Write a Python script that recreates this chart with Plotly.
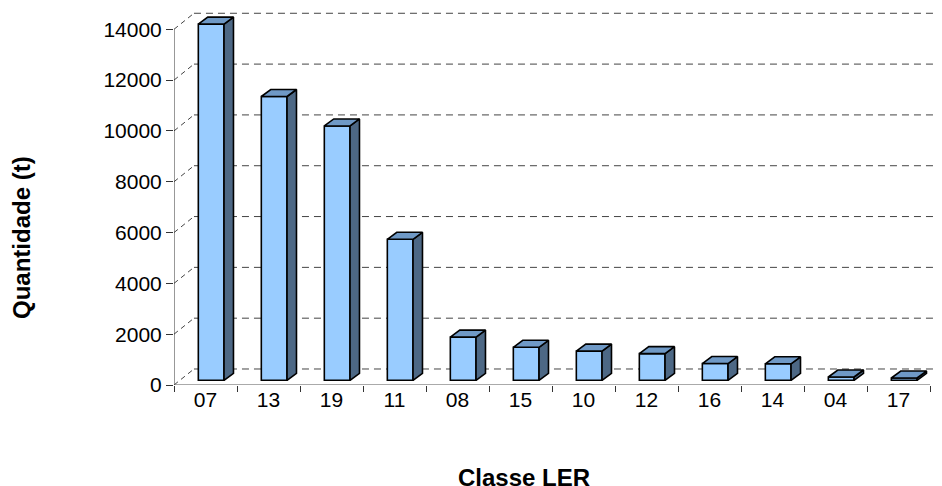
import plotly.graph_objects as go

# data
classes = ['07', '13', '19', '11', '08', '15', '10', '12', '16', '14', '04', '17']
quantities = [14020, 11170, 10010, 5550, 1700, 1300, 1150, 1050, 660, 650, 130, 90]
y_ticks = [0, 2000, 4000, 6000, 8000, 10000, 12000, 14000]

# fake 3d look: depth of the bars and of the back wall, in axis units
bar_width = 0.408
bar_shift = 0.09
bar_floor = 185
bar_dx = 0.15
bar_dy = 275
wall_dx = 0.317
wall_dy = 630

x_max = 11.69
y_max = 14838

fig = go.Figure()

# back wall grid goes under the traces
for val in y_ticks:
    fig.add_shape(type='line', layer='below', x0=-0.5, y0=val, x1=-0.5 + wall_dx, y1=val + wall_dy,
                  line=dict(color='#444444', width=1, dash='5px,4px'))
    fig.add_shape(type='line', layer='below', x0=-0.5 + wall_dx, y0=val + wall_dy, x1=x_max, y1=val + wall_dy,
                  line=dict(color='#444444', width=1, dash='7px,5px'))

# front faces
positions = [i + bar_shift for i in range(len(classes))]
fig.add_trace(go.Bar(x=positions, y=quantities, base=bar_floor, width=bar_width,
                     marker=dict(color='#99CCFF', line=dict(color='black', width=1.6)),
                     hoverinfo='skip'))

# side and top faces
for pos, val in zip(positions, quantities):
    left = pos - bar_width / 2
    right = pos + bar_width / 2
    top = bar_floor + val
    fig.add_trace(go.Scatter(x=[right, right + bar_dx, right + bar_dx, right, right],
                             y=[bar_floor, bar_floor + bar_dy, top + bar_dy, top, bar_floor],
                             mode='lines', fill='toself', fillcolor='#4D6885',
                             line=dict(color='black', width=1.6), hoverinfo='skip'))
    fig.add_trace(go.Scatter(x=[left, left + bar_dx, right + bar_dx, right, left],
                             y=[top, top + bar_dy, top + bar_dy, top, top],
                             mode='lines', fill='toself', fillcolor='#6F99C6',
                             line=dict(color='black', width=1.6), hoverinfo='skip'))

# axis lines stop at the last tick, so they are drawn as traces
fig.add_trace(go.Scatter(x=[-0.5, -0.5], y=[0, y_ticks[-1]], mode='lines', cliponaxis=False,
                         line=dict(color='#333333', width=1), hoverinfo='skip'))
fig.add_trace(go.Scatter(x=[-0.5, len(classes) - 0.5], y=[0, 0], mode='lines', cliponaxis=False,
                         line=dict(color='#555555', width=1), hoverinfo='skip'))

# the page has an 8px body margin, margins below allow for it
fig.update_layout(
    width=942, height=486,
    margin=dict(l=166, r=8, t=0, b=109),
    paper_bgcolor='white', plot_bgcolor='white',
    showlegend=False,
    font=dict(family='Liberation Sans, Arial, sans-serif', size=21, color='black'),
    xaxis=dict(range=[-0.5, x_max], tickmode='array', tickvals=list(range(len(classes))), ticktext=classes,
               ticks='', ticklen=0, showgrid=False, zeroline=False, showline=False,
               minor=dict(tickmode='array', tickvals=[i - 0.5 for i in range(len(classes) + 1)],
                          ticks='outside', ticklen=6, tickcolor='#333333', tickwidth=1, showgrid=False)),
    yaxis=dict(range=[0, y_max], tickmode='array', tickvals=y_ticks, ticktext=[str(v) for v in y_ticks],
               ticks='outside', ticklen=7, tickcolor='#333333', tickwidth=1, showgrid=False,
               zeroline=False, showline=False),
    annotations=[
        dict(text='<b>Classe LER</b>', xref='paper', yref='paper', x=(524 - 174) / 768, y=(385 - 478) / 377,
             showarrow=False, xanchor='center', yanchor='middle', font=dict(size=24)),
        dict(text='<b>Quantidade (t)</b>', xref='paper', yref='paper', x=(22 - 174) / 768, y=(385 - 238) / 377,
             showarrow=False, textangle=-90, xanchor='center', yanchor='middle', font=dict(size=24)),
    ],
)

fig.write_html('out.html')
